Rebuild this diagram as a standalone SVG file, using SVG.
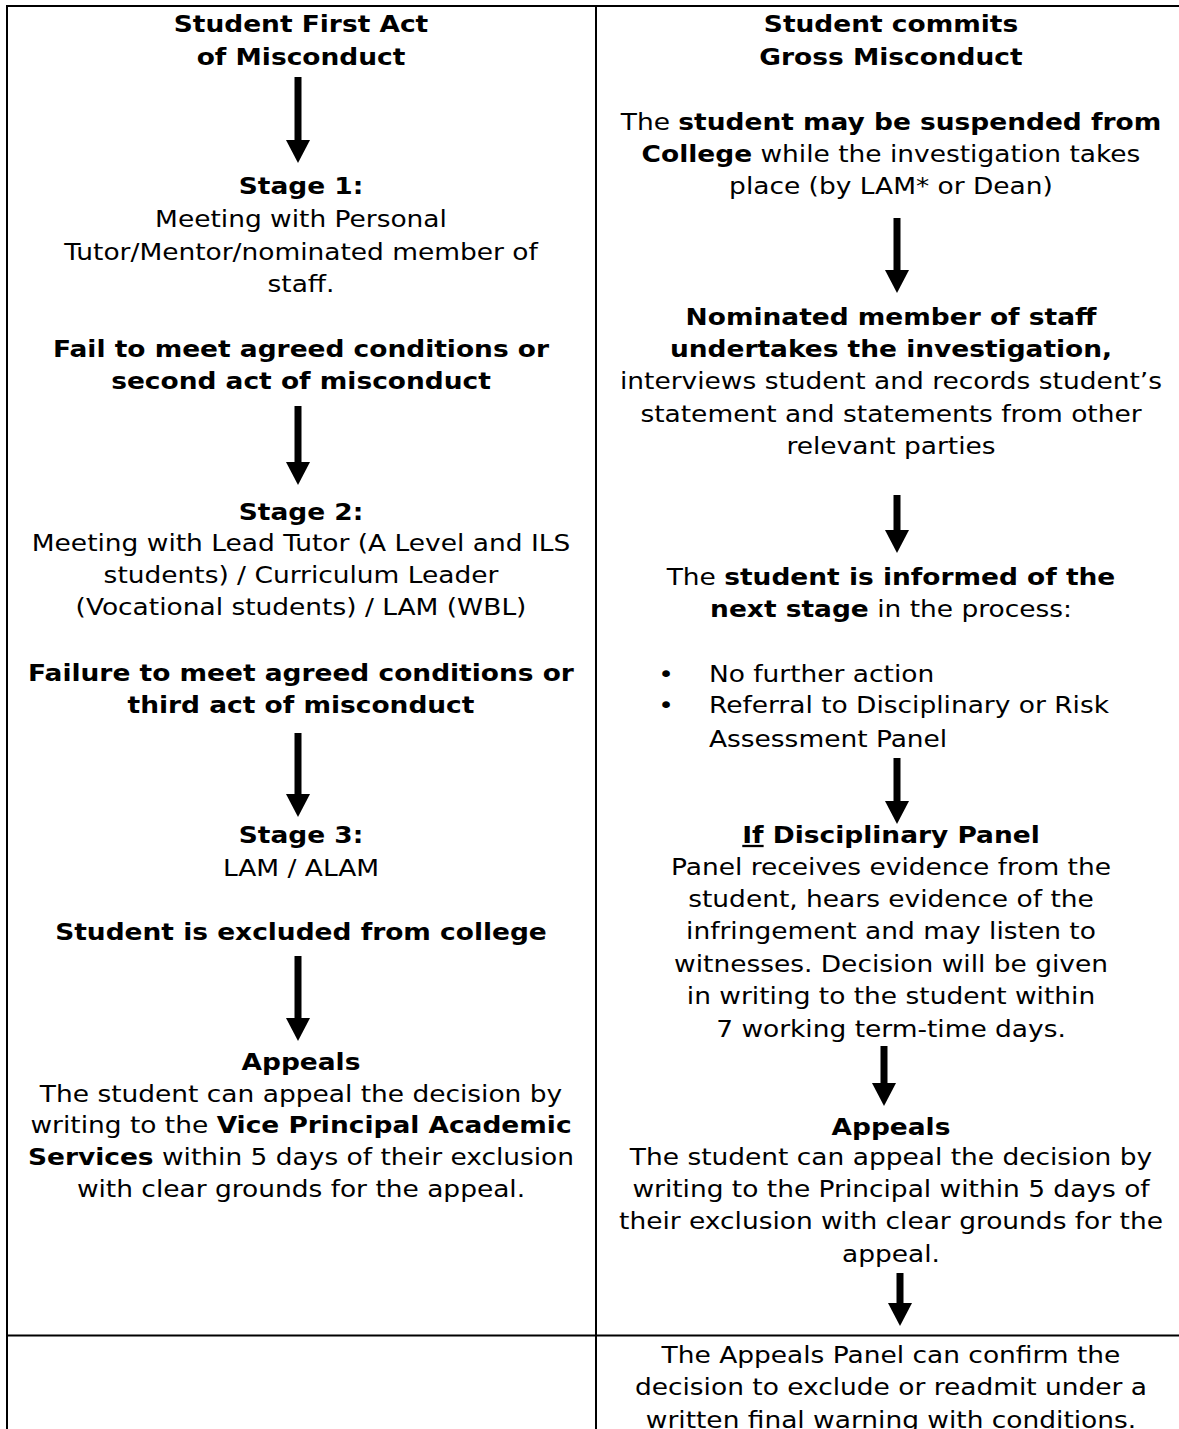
<svg xmlns="http://www.w3.org/2000/svg" width="1179" height="1429" viewBox="0 0 1179 1429">
<style>
  text { font-family: "DejaVu Sans", Verdana, sans-serif; font-size: 23px; fill: #000; text-anchor: middle; }
  .b { font-weight: bold; }
  .l { text-anchor: start; }
  .grid line { stroke: #000; stroke-width: 2; }
  .arrow { stroke: #000; stroke-width: 7; fill: none; marker-end: url(#ah); }
</style>
<defs>
  <marker id="ah" markerUnits="userSpaceOnUse" viewBox="0 0 23 24" markerWidth="23" markerHeight="24" refX="0" refY="12" orient="auto">
    <path d="M0,0 L23,12 L0,24 Z" fill="#000"/>
  </marker>
</defs>
<rect width="1179" height="1429" fill="#fff"/>

<g id="table" class="grid">
  <line x1="6" y1="6" x2="1179" y2="6"/>
  <line x1="7" y1="5" x2="7" y2="1429"/>
  <line x1="596" y1="5" x2="596" y2="1429"/>
  <line x1="6" y1="1335.5" x2="1179" y2="1335.5"/>
</g>

<g id="connectors">
  <line class="arrow" x1="298" y1="77" x2="298" y2="140"/>
  <line class="arrow" x1="298" y1="406" x2="298" y2="462"/>
  <line class="arrow" x1="298" y1="733" x2="298" y2="794"/>
  <line class="arrow" x1="298" y1="956" x2="298" y2="1018"/>
  <line class="arrow" x1="897" y1="218" x2="897" y2="270"/>
  <line class="arrow" x1="897" y1="495" x2="897" y2="530"/>
  <line class="arrow" x1="897" y1="758" x2="897" y2="801"/>
  <line class="arrow" x1="884" y1="1046" x2="884" y2="1083"/>
  <line class="arrow" x1="900" y1="1273" x2="900" y2="1303"/>
</g>

<g id="first-act" transform="translate(301 0) scale(1.15 1)">
  <text class="b" x="0" y="32">Student First Act</text>
  <text class="b" x="0" y="65">of Misconduct</text>
</g>
<g id="stage1" transform="translate(301 0) scale(1.15 1)">
  <text class="b" x="0" y="194">Stage 1:</text>
  <text x="0" y="227">Meeting with Personal</text>
  <text x="0" y="260">Tutor/Mentor/nominated member of</text>
  <text x="0" y="292">staff.</text>
</g>
<g id="fail1" transform="translate(301 0) scale(1.15 1)">
  <text class="b" x="0" y="357">Fail to meet agreed conditions or</text>
  <text class="b" x="0" y="389">second act of misconduct</text>
</g>
<g id="stage2" transform="translate(301 0) scale(1.15 1)">
  <text class="b" x="0" y="520">Stage 2:</text>
  <text x="0" y="551">Meeting with Lead Tutor (A Level and ILS</text>
  <text x="0" y="583">students) / Curriculum Leader</text>
  <text x="0" y="615">(Vocational students) / LAM (WBL)</text>
</g>
<g id="fail2" transform="translate(301 0) scale(1.15 1)">
  <text class="b" x="0" y="681">Failure to meet agreed conditions or</text>
  <text class="b" x="0" y="713">third act of misconduct</text>
</g>
<g id="stage3" transform="translate(301 0) scale(1.15 1)">
  <text class="b" x="0" y="843">Stage 3:</text>
  <text x="0" y="876">LAM / ALAM</text>
</g>
<g id="excluded" transform="translate(301 0) scale(1.15 1)">
  <text class="b" x="0" y="940">Student is excluded from college</text>
</g>
<g id="appeals-left" transform="translate(301 0) scale(1.15 1)">
  <text class="b" x="0" y="1070">Appeals</text>
  <text x="0" y="1102">The student can appeal the decision by</text>
  <text x="0" y="1133">writing to the <tspan class="b">Vice Principal Academic</tspan></text>
  <text x="0" y="1165"><tspan class="b">Services</tspan> within 5 days of their exclusion</text>
  <text x="0" y="1197">with clear grounds for the appeal.</text>
</g>

<g id="gross" transform="translate(891 0) scale(1.15 1)">
  <text class="b" x="0" y="32">Student commits</text>
  <text class="b" x="0" y="65">Gross Misconduct</text>
</g>
<g id="suspend" transform="translate(891 0) scale(1.15 1)">
  <text x="0" y="130">The <tspan class="b">student may be suspended from</tspan></text>
  <text x="0" y="162"><tspan class="b">College</tspan> while the investigation takes</text>
  <text x="0" y="194">place (by LAM* or Dean)</text>
</g>
<g id="investigation" transform="translate(891 0) scale(1.15 1)">
  <text class="b" x="0" y="325">Nominated member of staff</text>
  <text class="b" x="0" y="357">undertakes the investigation,</text>
  <text x="0" y="389">interviews student and records student’s</text>
  <text x="0" y="422">statement and statements from other</text>
  <text x="0" y="454">relevant parties</text>
</g>
<g id="informed" transform="translate(891 0) scale(1.15 1)">
  <text x="0" y="585">The <tspan class="b">student is informed of the</tspan></text>
  <text x="0" y="617"><tspan class="b">next stage</tspan> in the process:</text>
  <text x="-195.7" y="682">•</text>
  <text class="l" x="-158.3" y="682">No further action</text>
  <text x="-195.7" y="713">•</text>
  <text class="l" x="-158.3" y="713">Referral to Disciplinary or Risk</text>
  <text class="l" x="-158.3" y="747">Assessment Panel</text>
</g>
<g id="disciplinary-panel" transform="translate(891 0) scale(1.15 1)">
  <text class="b" x="0" y="843"><tspan text-decoration="underline">If</tspan> Disciplinary Panel</text>
  <text x="0" y="875">Panel receives evidence from the</text>
  <text x="0" y="907">student, hears evidence of the</text>
  <text x="0" y="939">infringement and may listen to</text>
  <text x="0" y="972">witnesses. Decision will be given</text>
  <text x="0" y="1004">in writing to the student within</text>
  <text x="0" y="1037">7 working term-time days.</text>
</g>
<g id="appeals-right" transform="translate(891 0) scale(1.15 1)">
  <text class="b" x="0" y="1135">Appeals</text>
  <text x="0" y="1165">The student can appeal the decision by</text>
  <text x="0" y="1197">writing to the Principal within 5 days of</text>
  <text x="0" y="1229">their exclusion with clear grounds for the</text>
  <text x="0" y="1262">appeal.</text>
</g>
<g id="appeals-panel" transform="translate(891 0) scale(1.15 1)">
  <text x="0" y="1363">The Appeals Panel can confirm the</text>
  <text x="0" y="1395">decision to exclude or readmit under a</text>
  <text x="0" y="1428">written final warning with conditions.</text>
</g>
</svg>
